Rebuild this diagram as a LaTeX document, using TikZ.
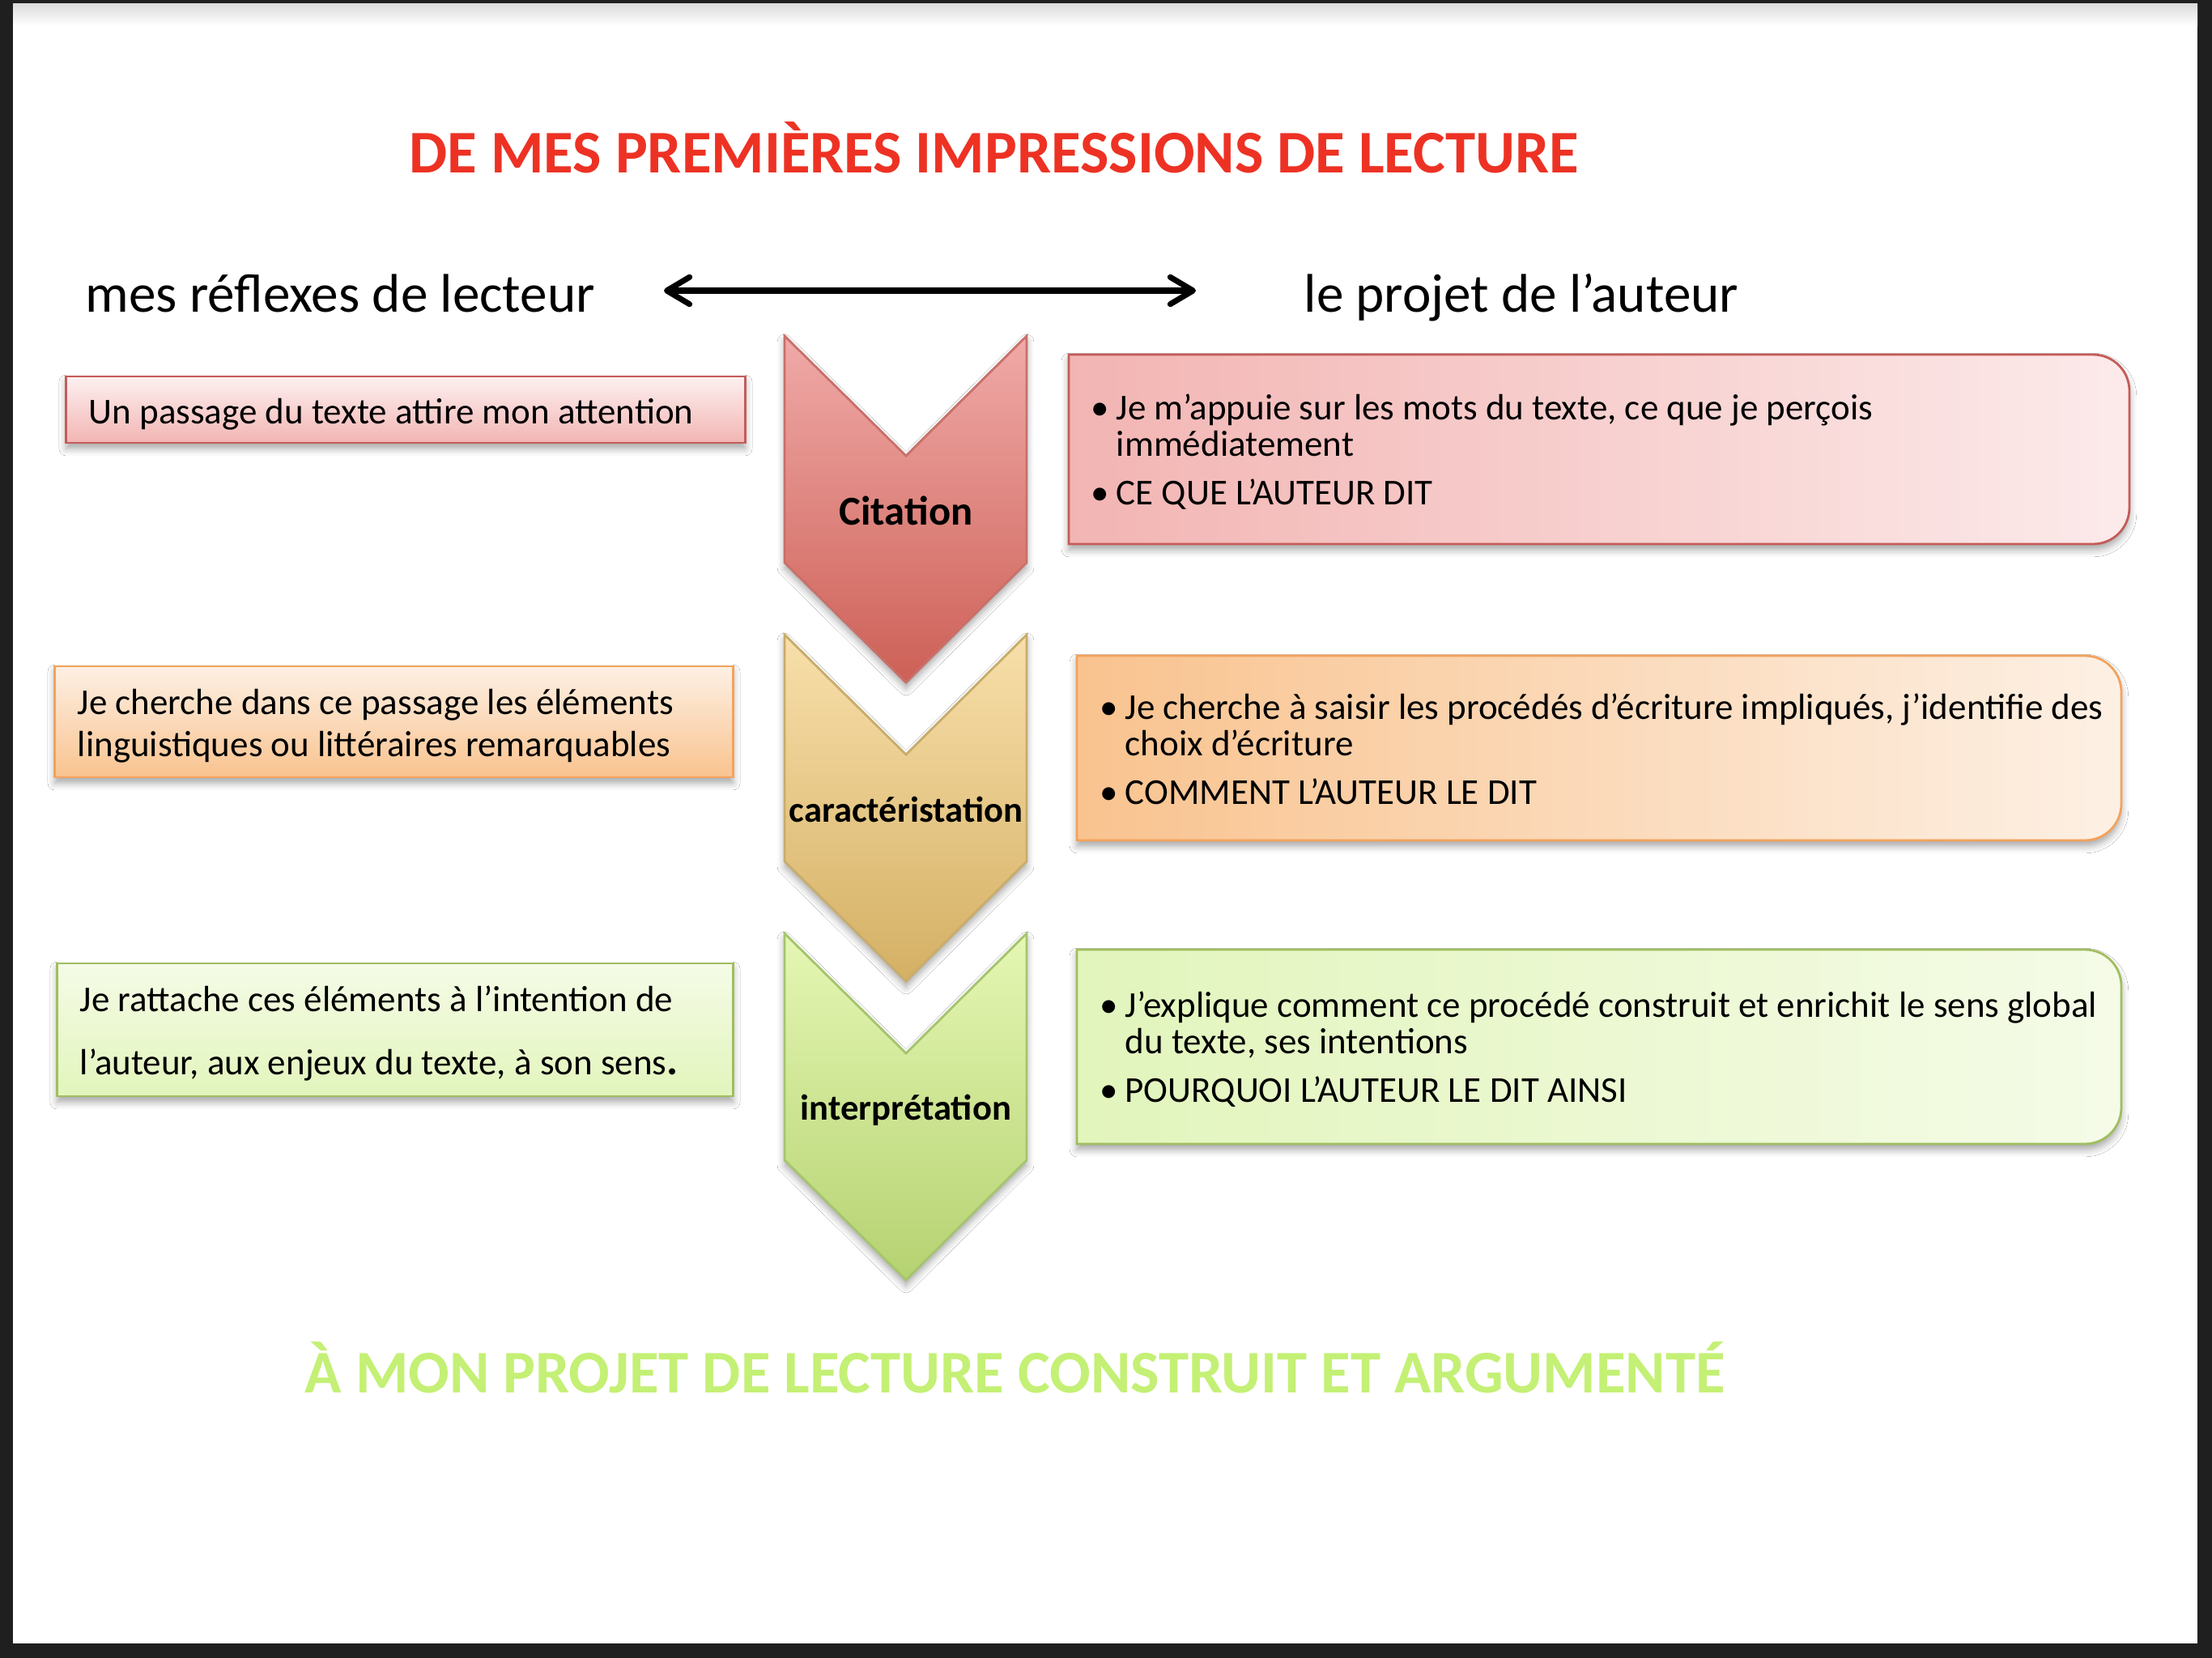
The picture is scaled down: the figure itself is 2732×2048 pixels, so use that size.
\documentclass[tikz,border=0pt]{standalone}
\usepackage{fontspec}
\setmainfont{Carlito}
\usepackage{tikz}
\usetikzlibrary{arrows.meta, shadows.blur}
\usepackage{xcolor}
\definecolor{cadre}{RGB}{31,31,31}
\definecolor{rougetitre}{RGB}{237,50,36}
\definecolor{verttitre}{RGB}{196,240,117}
\definecolor{chrouge1}{RGB}{240,170,168}
\definecolor{chrouge2}{RGB}{205,96,86}
\definecolor{chrougebord}{RGB}{200,112,106}
\definecolor{chor1}{RGB}{248,223,170}
\definecolor{chor2}{RGB}{212,176,100}
\definecolor{chorbord}{RGB}{200,172,108}
\definecolor{chvert1}{RGB}{229,247,180}
\definecolor{chvert2}{RGB}{181,210,113}
\definecolor{chvertbord}{RGB}{165,196,110}
\definecolor{rougeclair}{RGB}{252,234,234}
\definecolor{rougemoyen}{RGB}{242,181,179}
\definecolor{rougebord}{RGB}{196,92,88}
\definecolor{orclair}{RGB}{253,240,228}
\definecolor{ormoyen}{RGB}{249,195,143}
\definecolor{orbord}{RGB}{244,162,92}
\definecolor{vertclair}{RGB}{245,251,231}
\definecolor{vertmoyen}{RGB}{226,245,188}
\definecolor{vertbord}{RGB}{160,190,95}
\newcommand{\corps}{\fontsize{12.8}{12.8}\selectfont}
\newcommand{\puce}{\makebox[0.31cm][l]{\textbullet}}
\newcommand{\retrait}{\hspace*{0.31cm}}
\newcommand{\espaces}{\spaceskip=0pt\xspaceskip=0pt\relax}
\tikzset{
  ombre/.style={blur shadow={shadow xshift=0pt, shadow yshift=-2pt, shadow blur radius=2.5pt, shadow opacity=35}},
  reflexe/.style={line width=0.8pt, ombre, inner xsep=0.28cm, inner ysep=0pt, align=left, font=\corps},
  projet/.style={line width=0.8pt, ombre},
  projtexte/.style={anchor=base west, inner sep=0pt, font=\corps},
  chevron/.style={line width=0.8pt, ombre},
  etape/.style={anchor=base, inner sep=0pt, font=\bfseries\fontsize{12.7}{12.7}\selectfont},
  grandtitre/.style={anchor=base west, inner sep=0pt, font=\bfseries\fontsize{21.3}{25}\selectfont},
  entete/.style={anchor=base west, inner sep=0pt, font=\fontsize{19.1}{23}\selectfont}
}
\begin{document}
\begin{tikzpicture}[x=0.01cm, y=-0.01cm]
  % cadre et page
  \fill[cadre] (0,0) rectangle (2732,2048);
  \fill[white] (16,4) rectangle (2714,2030);
  \shade[top color=black!14, bottom color=white] (16,4) rectangle (2714,32);
  \useasboundingbox (0,0) rectangle (2732,2048);
  % titres
  \node[grandtitre, rougetitre] (titre) at (505,213) {DE MES PREMIÈRES IMPRESSIONS DE LECTURE};
  \node[grandtitre, verttitre] (conclusion) at (376,1720) {À MON PROJET DE LECTURE CONSTRUIT ET ARGUMENTÉ};
  \node[entete] (reflexes) at (105,385) {mes réflexes de lecteur};
  \node[entete] (auteur) at (1610,385) {le projet de l’auteur};
  % double fleche
  \coordinate (fg) at (820,359);
  \coordinate (fd) at (1477,359);
  \draw[line width=2pt, {Straight Barb[length=8pt, width=9.5pt, round]}-{Straight Barb[length=8pt, width=9.5pt, round]}] (fg) -- (fd);
  % chevrons
  \path[chevron, draw=chrougebord, top color=chrouge1, bottom color=chrouge2]
    (969,415) -- (1119,563) -- (1268,415) -- (1268,695) -- (1119,843) -- (969,695) -- cycle;
  \path[chevron, draw=chorbord, top color=chor1, bottom color=chor2]
    (969,784) -- (1119,932) -- (1268,784) -- (1268,1064) -- (1119,1212) -- (969,1064) -- cycle;
  \path[chevron, draw=chvertbord, top color=chvert1, bottom color=chvert2]
    (969,1153) -- (1119,1301) -- (1268,1153) -- (1268,1433) -- (1119,1581) -- (969,1433) -- cycle;
  \node[etape, font=\bfseries\fontsize{14.4}{14.4}\selectfont] (citation) at (1119,648) {Citation};
  \node[etape] (caracterisation) at (1119,1015) {caractéristation};
  \node[etape] (interpretation) at (1119,1383) {interprétation};
  % reflexes du lecteur
  \node[reflexe, draw=rougebord, top color=rougeclair!70, bottom color=rougemoyen,
    minimum width=8.38cm, text width=7.82cm, minimum height=0.82cm] (passage) at (501,506)
    {\espaces\rule{0pt}{0.42cm}Un passage du texte attire mon attention};
  \node[reflexe, draw=orbord, top color=orclair, bottom color=ormoyen,
    minimum width=8.37cm, text width=7.81cm, minimum height=1.37cm,
    font=\fontsize{12.8}{14.8}\selectfont] (cherche) at (486.5,891.5)
    {\espaces\rule{0pt}{0.41cm}Je cherche dans ce passage les éléments\\linguistiques ou littéraires remarquables};
  \node[reflexe, draw=vertbord, top color=vertclair, bottom color=vertmoyen,
    minimum width=8.34cm, text width=7.78cm, minimum height=1.64cm,
    font=\fontsize{12.8}{22.2}\selectfont] (rattache) at (488,1272)
    {\espaces\rule{0pt}{0.41cm}Je rattache ces éléments à l’intention de\\l’auteur, aux enjeux du texte, à son sens{\bfseries\fontsize{15}{22.2}\selectfont.}};
  % projet de l'auteur
  \path[projet, draw=rougebord, left color=rougemoyen, right color=rougeclair]
    (1320,438) -- (2585,438) .. controls (2610,438) and (2630,458) .. (2630,483) -- (2630,627)
    .. controls (2630,652) and (2610,672) .. (2585,672) -- (1320,672) -- cycle;
  \path[projet, draw=orbord, left color=ormoyen, right color=orclair]
    (1330,810) -- (2575,810) .. controls (2600,810) and (2620,830) .. (2620,855) -- (2620,993)
    .. controls (2620,1018) and (2600,1038) .. (2575,1038) -- (1330,1038) -- cycle;
  \path[projet, draw=vertbord, left color=vertmoyen, right color=vertclair]
    (1330,1173) -- (2575,1173) .. controls (2600,1173) and (2620,1193) .. (2620,1218) -- (2620,1368)
    .. controls (2620,1393) and (2600,1413) .. (2575,1413) -- (1330,1413) -- cycle;
  \node[projtexte] (dit) at (1347,518) {\begin{tabular}[t]{@{}l@{}}
    \puce Je m’appuie sur les mots du texte, ce que je perçois\\
    \retrait immédiatement\\[0.15cm]
    \puce CE QUE L’AUTEUR DIT\end{tabular}};
  \node[projtexte] (comment) at (1358,888) {\begin{tabular}[t]{@{}l@{}}
    \puce Je cherche à saisir les procédés d’écriture impliqués, j’identifie des\\
    \retrait choix d’écriture\\[0.15cm]
    \puce COMMENT L’AUTEUR LE DIT\end{tabular}};
  \node[projtexte] (pourquoi) at (1358,1256) {\begin{tabular}[t]{@{}l@{}}
    \puce J’explique comment ce procédé construit et enrichit le sens global\\
    \retrait du texte, ses intentions\\[0.15cm]
    \puce POURQUOI L’AUTEUR LE DIT AINSI\end{tabular}};
\end{tikzpicture}
\end{document}
